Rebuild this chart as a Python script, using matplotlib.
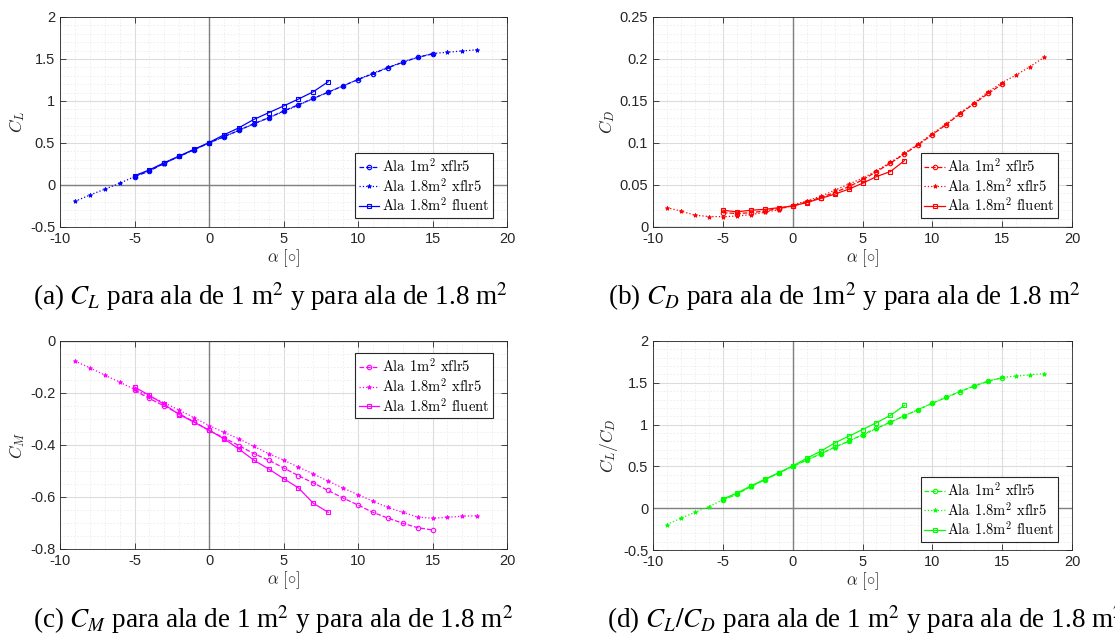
import numpy as np
import matplotlib

matplotlib.use("Agg")
import matplotlib.pyplot as plt
from matplotlib.ticker import MultipleLocator, FuncFormatter

plt.rcParams["font.family"] = ["Liberation Sans", "DejaVu Sans"]
plt.rcParams["mathtext.fontset"] = "cm"
plt.rcParams["axes.unicode_minus"] = False

# --- data ------------------------------------------------------------------
alpha_1m = np.arange(-5, 16)      # 1 m^2 wing, xflr5
alpha_18 = np.arange(-9, 19)      # 1.8 m^2 wing, xflr5
alpha_fl = np.arange(-5, 9)       # 1.8 m^2 wing, fluent

cl_1m = [0.10, 0.165, 0.26, 0.34, 0.42, 0.50, 0.575, 0.65, 0.73, 0.80, 0.88,
         0.955, 1.03, 1.105, 1.18, 1.255, 1.325, 1.395, 1.46, 1.52, 1.56]
cl_18 = [-0.195, -0.12, -0.05, 0.02, 0.10, 0.175, 0.255, 0.34, 0.42, 0.50,
         0.573, 0.65, 0.724, 0.80, 0.876, 0.95, 1.03, 1.107, 1.18, 1.258,
         1.33, 1.40, 1.465, 1.52, 1.565, 1.58, 1.596, 1.61]
cl_fl = [0.11, 0.18, 0.265, 0.345, 0.425, 0.505, 0.597, 0.68, 0.78, 0.86,
         0.94, 1.023, 1.11, 1.23]

cd_1m = [0.017, 0.016, 0.017, 0.019, 0.022, 0.025, 0.030, 0.035, 0.041, 0.048,
         0.056, 0.066, 0.076, 0.087, 0.098, 0.110, 0.122, 0.135, 0.147, 0.159,
         0.170]
cd_18 = [0.023, 0.019, 0.014, 0.0125, 0.0123, 0.013, 0.0147, 0.0175, 0.0206,
         0.026, 0.031, 0.0365, 0.0437, 0.051, 0.058, 0.067, 0.077, 0.0877,
         0.099, 0.111, 0.123, 0.136, 0.148, 0.161, 0.172, 0.181, 0.191, 0.202]
cd_fl = [0.020, 0.018, 0.020, 0.021, 0.023, 0.025, 0.029, 0.034, 0.039, 0.045,
         0.052, 0.060, 0.066, 0.079]

cm_1m = [-0.19, -0.221, -0.25, -0.28, -0.311, -0.344, -0.372, -0.402, -0.433,
         -0.458, -0.488, -0.518, -0.546, -0.575, -0.604, -0.631, -0.659,
         -0.681, -0.701, -0.718, -0.727]
cm_18 = [-0.077, -0.103, -0.131, -0.158, -0.186, -0.212, -0.238, -0.266,
         -0.295, -0.325, -0.351, -0.376, -0.405, -0.433, -0.458, -0.485,
         -0.511, -0.539, -0.566, -0.591, -0.616, -0.64, -0.659, -0.677,
         -0.682, -0.678, -0.674, -0.672]
cm_fl = [-0.177, -0.209, -0.244, -0.283, -0.312, -0.343, -0.376, -0.415,
         -0.458, -0.492, -0.529, -0.565, -0.624, -0.659]

# the CL/CD panel shows the same curves as the CL panel
ld_1m = list(cl_1m)
ld_18 = list(cl_18)
ld_fl = list(cl_fl)

labels = [r"Ala 1m$^2$ xflr5", r"Ala 1.8m$^2$ xflr5", r"Ala 1.8m$^2$ fluent"]

W, H = 1115, 639
fig = plt.figure(figsize=(W / 100, H / 100), dpi=100)

tick_fmt = FuncFormatter(lambda v, pos: f"{round(v, 6):g}")


def px_axes(x0, y0, x1, y1):
    return fig.add_axes([x0 / W, 1 - y1 / H, (x1 - x0) / W, (y1 - y0) / H])


def panel(ax, color, y1m, y18, yfl, ylim, ymaj, ymin, ylabel, loc, anchor):
    ax.plot(alpha_1m, y1m, "--o", color=color, lw=0.9, ms=3.2,
            mfc="none", mew=0.8, label=labels[0])
    ax.plot(alpha_18, y18, ":*", color=color, lw=0.9, ms=3.2,
            mew=0.6, label=labels[1])
    ax.plot(alpha_fl, yfl, "-s", color=color, lw=0.9, ms=3.0,
            mfc="none", mew=0.8, label=labels[2])
    ax.axhline(0, color="#808080", lw=1.0, zorder=1)
    ax.axvline(0, color="#808080", lw=1.0, zorder=1)
    ax.set_xlim(-10, 20)
    ax.set_ylim(*ylim)
    ax.xaxis.set_major_locator(MultipleLocator(5))
    ax.xaxis.set_minor_locator(MultipleLocator(1))
    ax.yaxis.set_major_locator(MultipleLocator(ymaj))
    ax.yaxis.set_minor_locator(MultipleLocator(ymin))
    ax.xaxis.set_major_formatter(tick_fmt)
    ax.yaxis.set_major_formatter(tick_fmt)
    ax.grid(which="major", color="#dcdcdc", lw=0.8)
    ax.grid(which="minor", color="#ececec", lw=0.6, ls=(0, (2, 2)))
    ax.set_axisbelow(True)
    ax.tick_params(which="major", direction="in", length=4, width=0.6,
                   top=True, right=True, labelsize=10.5, colors="#262626")
    ax.tick_params(which="minor", length=0, top=True, right=True)
    for s in ax.spines.values():
        s.set_color("#262626")
        s.set_linewidth(0.6)
    ax.set_xlabel(r"$\alpha\ [\circ]$", fontsize=12, color="#262626", labelpad=1)
    ax.set_ylabel(ylabel, fontsize=12.5, color="#262626", labelpad=2)
    leg = ax.legend(loc=loc, bbox_to_anchor=anchor, fancybox=False,
                    framealpha=1, edgecolor="#262626", handlelength=1.4,
                    handletextpad=0.15, borderpad=0.25, labelspacing=0.12,
                    borderaxespad=0,
                    prop={"family": "cmr10", "size": 10.5})
    leg.get_frame().set_linewidth(0.8)


ax_a = px_axes(60, 17, 507, 227)
panel(ax_a, "#0000ff", cl_1m, cl_18, cl_fl, (-0.5, 2), 0.5, 0.1,
      r"$C_L$", "lower right", (0.968, 0.045))

ax_b = px_axes(653, 17, 1072, 227)
panel(ax_b, "#ff0000", cd_1m, cd_18, cd_fl, (0, 0.25), 0.05, 0.01,
      r"$C_D$", "lower right", (0.967, 0.045))

ax_c = px_axes(60, 341, 507, 549)
panel(ax_c, "#ff00ff", cm_1m, cm_18, cm_fl, (-0.8, 0), 0.2, 0.05,
      r"$C_M$", "upper right", (0.968, 0.94))

ax_d = px_axes(653, 341, 1072, 550)
panel(ax_d, "#00ff00", ld_1m, ld_18, ld_fl, (-0.5, 2), 0.5, 0.1,
      r"$C_L/C_D$", "lower right", (0.967, 0.04))

captions = [
    (33, 297, r"(a) $C_L$ para ala de 1 m$^2$ y para ala de 1.8 m$^2$"),
    (608, 297, r"(b) $C_D$ para ala de 1m$^2$ y para ala de 1.8 m$^2$"),
    (33, 620, r"(c) $C_M$ para ala de 1 m$^2$ y para ala de 1.8 m$^2$"),
    (607, 620, r"(d) $C_L/C_D$ para ala de 1 m$^2$ y para ala de 1.8 m$^2$"),
]
for x, y, t in captions:
    fig.text(x / W, 1 - y / H, t, ha="left", va="center", fontsize=19.5,
             family="Liberation Serif", math_fontfamily="stix", color="black")

fig.savefig("out.png", dpi=100)
